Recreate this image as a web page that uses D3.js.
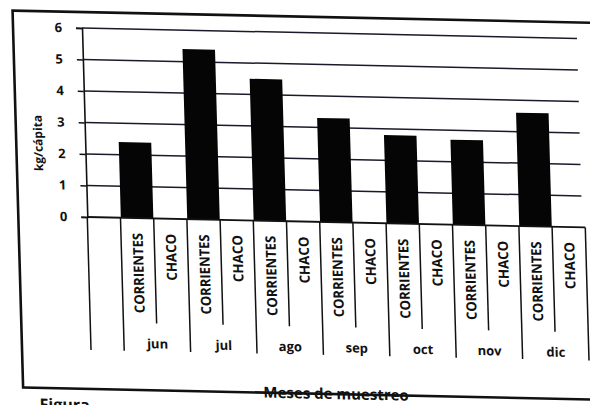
<!DOCTYPE html>
<html>
<head>
<meta charset="utf-8">
<script src="https://cdn.jsdelivr.net/npm/d3@7"></script>
<style>
	html, body { margin: 0; padding: 0; background: #fff; overflow: hidden; }
	text { font-family: "Open Sans", "DejaVu Sans", sans-serif; font-weight: bold; fill: #111; }
</style>
</head>
<body>
<svg id="chart" width="590" height="405"></svg>
<script>
'use strict';

// data
const months = ['jun', 'jul', 'ago', 'sep', 'oct', 'nov', 'dic'];
const regions = ['CORRIENTES', 'CHACO'];
const corrientes = [2.4, 5.4, 4.5, 3.3, 2.8, 2.7, 3.6];
const chaco = [0, 0, 0, 0, 0, 0, 0];
const yTicks = [0, 1, 2, 3, 4, 5, 6];
const yTitle = 'kg/cápita';
const xTitle = 'Meses de muestreo';

const width = 498, height = 189;

// the scanned page is slightly skewed, so the whole chart is drawn in a sheared frame
let svg = d3.select('#chart');
let g = svg.append('g').attr('transform', 'matrix(1,0.021,0.028,1,82,28)');

// flatten month x region into categories; first slot is an empty one
let cats = [{ key: '_blank', month: null, region: null, value: null }];
months.forEach((m, i) => {
	cats.push({ key: m + '|' + regions[0], month: m, region: regions[0], value: corrientes[i] });
	cats.push({ key: m + '|' + regions[1], month: m, region: regions[1], value: chaco[i] });
});

let x = d3.scaleBand().domain(cats.map(d => d.key)).range([0, width]).paddingInner(0.02).paddingOuter(0.01),
	y = d3.scaleLinear().domain([0, 6]).range([height, 0]);
let step = x.step();

// outer frame
g.append('rect')
	.attr('x', -69).attr('y', -16)
	.attr('width', 720).attr('height', 377)
	.attr('fill', 'none').attr('stroke', '#111').attr('stroke-width', 2.6);

// gridlines
g.append('g').selectAll('line').data(yTicks.filter(t => t > 0)).join('line')
	.attr('x1', 0).attr('x2', width - 3)
	.attr('y1', d => y(d)).attr('y2', d => y(d))
	.attr('stroke', '#1a1a2a').attr('stroke-width', 1.5);

// y axis
let yAxis = g.append('g')
	.call(d3.axisLeft(y).tickValues(yTicks).tickSize(6).tickPadding(14).tickFormat(d3.format('d')));
yAxis.select('.domain').attr('stroke', '#111').attr('stroke-width', 1.6);
yAxis.selectAll('.tick line').attr('stroke', '#111').attr('stroke-width', 1.5);
yAxis.selectAll('.tick text').style('font-size', '13px').attr('fill', '#111');

g.append('text')
	.attr('transform', `translate(-47,116) rotate(-90)`)
	.attr('text-anchor', 'middle')
	.attr('dy', '0.35em')
	.style('font-size', '12px')
	.text(yTitle);

// bars
g.append('g').selectAll('rect').data(cats.filter(d => d.value)).join('rect')
	.attr('x', d => x(d.key))
	.attr('width', x.bandwidth())
	.attr('y', d => y(d.value))
	.attr('height', d => y(0) - y(d.value))
	.attr('fill', '#050505');

// x axis line
g.append('line')
	.attr('x1', 0).attr('x2', width)
	.attr('y1', y(0)).attr('y2', y(0))
	.attr('stroke', '#111').attr('stroke-width', 1.8);

// category separators (long between months, short within a month)
let bounds = d3.range(cats.length + 1).map(i => ({
	pos: i === cats.length ? width : x(cats[i].key) - step * x.paddingInner() / 2,
	long: i % 2 === 1 || i === 0 || i === cats.length
}));
g.append('g').selectAll('line').data(bounds).join('line')
	.attr('x1', d => d.pos).attr('x2', d => d.pos)
	.attr('y1', y(0)).attr('y2', d => d.long ? 322 : 294)
	.attr('stroke', '#111').attr('stroke-width', 1.5);

// region labels
const labelLen = { CORRIENTES: 80, CHACO: 47 };
g.append('g').selectAll('text').data(cats.filter(d => d.region)).join('text')
	.attr('transform', d => `translate(${x(d.key) + x.bandwidth() / 2},${y(0) + 15}) rotate(-90)`)
	.attr('text-anchor', 'end')
	.attr('dy', '0.36em')
	.attr('textLength', d => labelLen[d.region])
	.attr('lengthAdjust', 'spacingAndGlyphs')
	.style('font-size', '14px')
	.text(d => d.region);

// month labels
g.append('g').selectAll('text').data(months).join('text')
	.attr('x', m => x(m + '|' + regions[0]) + step)
	.attr('y', 319)
	.attr('text-anchor', 'middle')
	.style('font-size', '13px')
	.text(m => m);

// x title
g.append('text')
	.attr('x', width / 2 - 5)
	.attr('y', 366)
	.attr('text-anchor', 'middle')
	.style('font-size', '15px')
	.text(xTitle);

// caption peeking in at the bottom of the scan
g.append('text')
	.attr('x', -53).attr('y', 383)
	.style('font-size', '16px')
	.text('Figura');
</script>
</body>
</html>
